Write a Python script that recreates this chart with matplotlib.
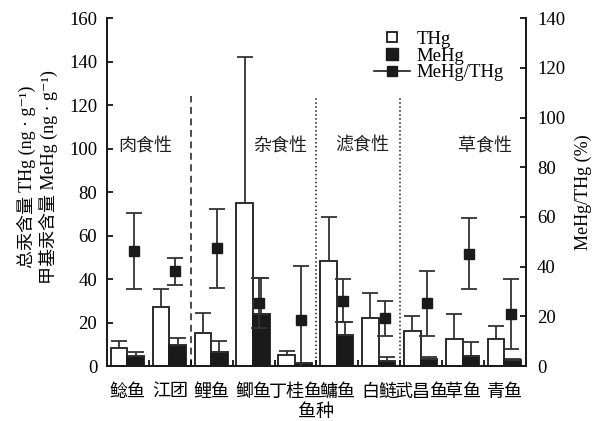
import matplotlib
matplotlib.use('Agg')
import matplotlib.pyplot as plt
import numpy as np
from matplotlib.lines import Line2D

plt.rcParams['font.family'] = ['Liberation Serif', 'Noto Sans CJK SC', 'DejaVu Sans']
plt.rcParams['axes.unicode_minus'] = False

species = ['鲶鱼', '江团', '鲤鱼', '鲫鱼', '丁桂鱼', '鳙鱼', '白鲢', '武昌鱼', '草鱼', '青鱼']
thg = [8.1, 27.3, 15.3, 75.1, 5.2, 48.4, 22.2, 16.2, 12.6, 12.6]
thg_sd = [3.5, 8.1, 9.2, 66.8, 1.7, 20.0, 11.2, 6.8, 11.3, 5.9]
mehg = [4.6, 9.5, 6.6, 23.8, 1.2, 14.1, 2.4, 3.4, 4.6, 2.6]
mehg_sd = [1.7, 3.5, 5.0, 16.5, 0.3, 6.1, 1.7, 0.9, 6.3, 0.8]
ratio = [46.4, 38.1, 47.3, 25.3, 18.4, 26.3, 19.2, 25.2, 45.2, 21.0]
ratio_sd = [15.3, 5.5, 16.0, 10.0, 21.8, 8.7, 7.1, 13.0, 14.4, 14.0]
groups = ['肉食性', '杂食性', '滤食性', '草食性']
group_label_x = [0.41, 3.63, 5.6, 8.51]
group_bounds = [1.5, 4.5, 6.5]
group_styles = [(0, (4.5, 3)), (0, (1, 1.6)), (0, (1, 1.6))]

fs = 13
fig = plt.figure(figsize=(5.99, 4.21), dpi=100)
ax = fig.add_axes([0.1786, 0.1306, 0.6995, 0.8264])
ax2 = ax.twinx()

x = np.arange(len(species))
w = 0.395
ink = '#1a1a1a'
ax.bar(x - 0.41, thg, width=w, align='edge', color='white', edgecolor=ink, linewidth=1.3, zorder=2)
ax.bar(x - 0.013, mehg, width=w, align='edge', color=ink, edgecolor=ink, linewidth=1.3, zorder=2)
ax.errorbar(x - 0.41 + w / 2, thg, yerr=[np.zeros(len(thg)), thg_sd], fmt='none',
            ecolor='#333333', elinewidth=1.3, capsize=5.5, capthick=1.3, zorder=3)
ax.errorbar(x - 0.013 + w / 2, mehg, yerr=[np.zeros(len(mehg)), mehg_sd], fmt='none',
            ecolor='#333333', elinewidth=1.3, capsize=5.5, capthick=1.3, zorder=3)

for b, st in zip(group_bounds, group_styles):
    ax.plot([b, b], [0, 124], color=ink, lw=1.1, linestyle=st, zorder=1)
for gx, g in zip(group_label_x, groups):
    ax.text(gx, 101, g, ha='center', va='center', fontsize=13, color='#222222')

ax2.errorbar(x + 0.135, ratio, yerr=ratio_sd, fmt='s', color=ink, markersize=6.5,
             ecolor='#333333', elinewidth=1.3, capsize=5.5, capthick=1.3, zorder=5)

ax.set_xlim(-0.5, len(species) - 0.5)
ax.set_ylim(0, 160)
ax2.set_ylim(0, 140)
ax.set_yticks(np.arange(0, 161, 20))
ax2.set_yticks(np.arange(0, 141, 20))
ax.set_xticks(x)
ax.set_xticklabels(species, fontsize=fs)
ax.set_xticks(x[:-1] + 0.5, minor=True)
ax.tick_params(axis='x', which='major', length=0, pad=13)
ax.tick_params(axis='x', which='minor', direction='in', length=4, width=1.2)
ax.tick_params(axis='y', direction='in', length=4, width=1.2, labelsize=13.5, pad=7)
ax2.tick_params(axis='y', direction='in', length=4, width=1.2, labelsize=13.5, pad=8)

for a in (ax, ax2):
    a.spines['top'].set_visible(False)
    for s in ('left', 'right', 'bottom'):
        a.spines[s].set_linewidth(1.3)
        a.spines[s].set_color(ink)

ax.set_xlabel('鱼种', fontsize=fs, labelpad=2)

fig.text(26 / 599, 1 - 177 / 421, '总汞含量 THg (ng · g⁻¹)', rotation=90,
         ha='center', va='center', fontsize=fs)
fig.text(48 / 599, 1 - 177 / 421, '甲基汞含量 MeHg (ng · g⁻¹)', rotation=90,
         ha='center', va='center', fontsize=fs)
ax2.set_ylabel('MeHg/THg (%)', fontsize=fs, labelpad=7)

handles = [
    Line2D([], [], marker='s', linestyle='none', markerfacecolor='white', markeredgecolor=ink,
           markersize=7.5, markeredgewidth=1.3),
    Line2D([], [], marker='s', linestyle='none', color=ink, markersize=9),
    Line2D([], [], marker='s', color=ink, lw=1.2, markersize=6.5),
]
ax.legend(handles, ['THg', 'MeHg', 'MeHg/THg'], loc='upper left', bbox_to_anchor=(0.62, 0.985),
          frameon=False, fontsize=13.5, handlelength=1.9, handletextpad=0.35, labelspacing=-0.03,
          borderaxespad=0)

fig.savefig('out.png', dpi=100)
